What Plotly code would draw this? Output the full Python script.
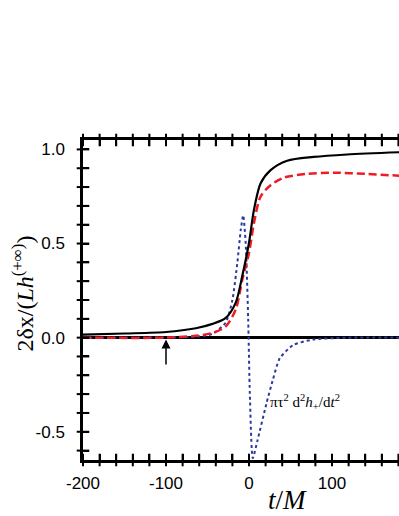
import plotly.graph_objects as go

# black solid curve
t_black = [-200, -150, -100, -64, -44, -28, -16, -8, 0, 6, 14, 26, 46, 78, 118, 181]
v_black = [0.016, 0.022, 0.03, 0.05, 0.073, 0.105, 0.186, 0.33, 0.505, 0.68, 0.82, 0.89, 0.94, 0.96, 0.973, 0.985]

# red dashed curve
t_red = [-200, -100, -64, -44, -28, -16, -8, 0, 6, 14, 26, 42, 70, 102, 140, 181]
v_red = [0.0, 0.0, 0.01, 0.025, 0.06, 0.15, 0.31, 0.45, 0.61, 0.75, 0.81, 0.85, 0.87, 0.876, 0.87, 0.86]

# blue dotted curve
t_blue = [-200, -64, -44, -28, -20, -14, -10, -7, -4, -1, 1, 4.5, 10, 21, 29, 37, 53, 77, 120, 181]
v_blue = [0.0, 0.005, 0.02, 0.08, 0.2, 0.4, 0.57, 0.65, 0.5, 0.1, -0.3, -0.64, -0.55, -0.35, -0.22, -0.11, -0.04, -0.01, 0.0, 0.0]

# ticks (labelled majors plus unlabelled minors)
x_tick_vals = [-200, -180, -160, -140, -120, -100, -80, -60, -40, -20, 0,
               20, 40, 60, 80, 100, 120, 140, 160, 180, 200]
x_tick_text = ["-200", "", "", "", "", "-100", "", "", "", "", "0",
               "", "", "", "", "100", "", "", "", "", "200"]
y_tick_vals = [-0.6, -0.5, -0.4, -0.3, -0.2, -0.1, 0.0, 0.1, 0.2, 0.3, 0.4, 0.5, 0.6, 0.7, 0.8, 0.9, 1.0]
y_tick_text = ["", "-0.5", "", "", "", "", "0.0", "", "", "", "", "0.5", "", "", "", "", "1.0"]

x_range = [-200, 180.7]
y_range = [-0.65, 1.05]

fig = go.Figure()
fig.add_trace(go.Scatter(x=t_blue, y=v_blue, mode="lines",
                         line=dict(color="#2c3a9e", width=2, dash="dot", shape="spline", smoothing=0.6)))
fig.add_trace(go.Scatter(x=t_red, y=v_red, mode="lines",
                         line=dict(color="#ee1c25", width=2.5, dash="8px,4px", shape="spline", smoothing=0.8)))
fig.add_trace(go.Scatter(x=t_black, y=v_black, mode="lines",
                         line=dict(color="black", width=2.2, shape="spline", smoothing=0.8)))

# tick marks as line-shaped markers sitting on the axes
xt_in = [v for v in x_tick_vals if x_range[0] <= v <= x_range[1]]
fig.add_trace(go.Scatter(x=[x_range[0]] * len(y_tick_vals), y=y_tick_vals, mode="markers", cliponaxis=False,
                         hoverinfo="skip",
                         marker=dict(symbol="line-ew", size=9, line=dict(color="black", width=2))))
fig.add_trace(go.Scatter(x=xt_in + xt_in, y=[y_range[0]] * len(xt_in) + [y_range[1]] * len(xt_in),
                         mode="markers", cliponaxis=False, hoverinfo="skip",
                         marker=dict(symbol="line-ns", size=9, line=dict(color="black", width=2))))

tickfont = dict(family="Liberation Sans, Arial", size=17, color="black")

fig.update_layout(
    template="none",
    width=399, height=516,
    margin=dict(l=83, r=0, t=140, b=56),
    paper_bgcolor="white", plot_bgcolor="white",
    showlegend=False,
    xaxis=dict(range=x_range, tickmode="array", tickvals=x_tick_vals, ticktext=x_tick_text, automargin=False,
               ticks="inside", ticklen=6, tickwidth=2, tickcolor="black",
               showline=True, linewidth=2.5, linecolor="black", mirror="allticks",
               showgrid=False, zeroline=False, tickfont=tickfont, ticklabelstandoff=6),
    yaxis=dict(range=y_range, tickmode="array", tickvals=y_tick_vals, ticktext=y_tick_text, automargin=False,
               ticks="inside", ticklen=6, tickwidth=2, tickcolor="black",
               showline=True, linewidth=2.5, linecolor="black", mirror=False,
               showgrid=False, zeroline=True, zerolinewidth=2.5, zerolinecolor="black",
               tickfont=tickfont, ticklabelstandoff=12),
)

fig.add_annotation(xref="paper", yref="paper", x=-0.19, y=0.52, xanchor="center", yanchor="middle",
                   textangle=-90, showarrow=False,
                   text="2δx/(<i>Lh</i><sup>(+∞)</sup>)",
                   font=dict(family="Liberation Serif, Times New Roman", size=24, color="black"))
fig.add_annotation(xref="paper", yref="paper", x=0.646, y=-0.125, xanchor="center", yanchor="middle",
                   showarrow=False,
                   text="<i>t</i>/<i>M</i>",
                   font=dict(family="Liberation Serif, Times New Roman", size=27, color="black"))
fig.add_annotation(xref="x", yref="y", x=-100, y=-0.01, ax=-100, ay=-0.15, axref="x", ayref="y",
                   showarrow=True, arrowhead=2, arrowsize=1.2, arrowwidth=1.5, arrowcolor="black", text="")
fig.add_annotation(xref="x", yref="y", x=23, y=-0.34, xanchor="left", yanchor="middle", showarrow=False,
                   text="πτ<sup>2</sup> d<sup>2</sup><i>h</i><sub>+</sub>/d<i>t</i><sup>2</sup>",
                   font=dict(family="Liberation Serif, Times New Roman", size=15, color="black"))

fig.write_html("out.html", config={"displayModeBar": False},
               post_script="document.body.style.margin='0';document.body.style.overflow='hidden';")
